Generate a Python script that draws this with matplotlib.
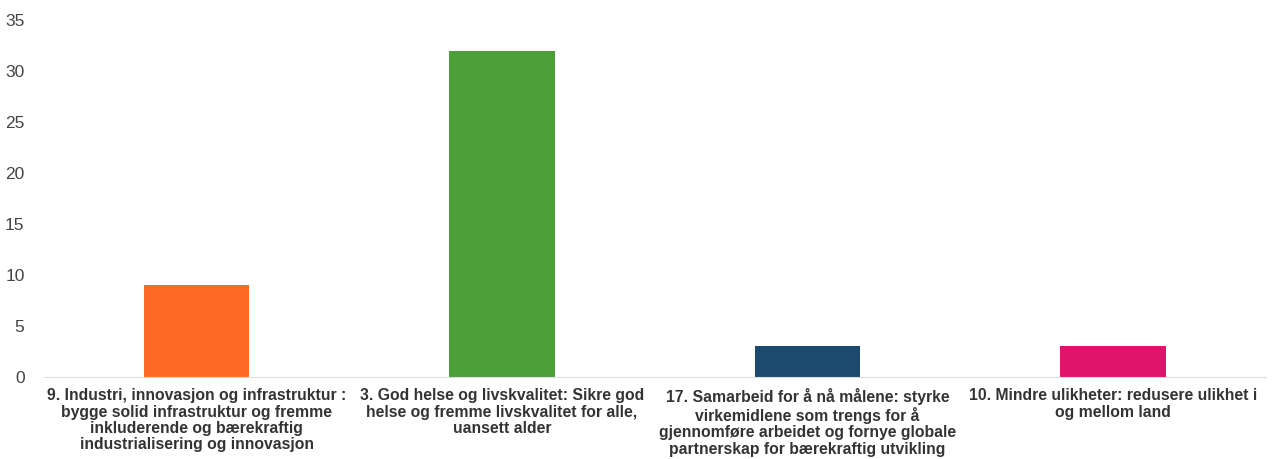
import matplotlib.pyplot as plt

plt.rcParams['font.family'] = ['Liberation Sans', 'DejaVu Sans']

labels = [
    "9. Industri, innovasjon og infrastruktur :\nbygge solid infrastruktur og fremme\ninkluderende og bærekraftig\nindustrialisering og innovasjon",
    "3. God helse og livskvalitet: Sikre god\nhelse og fremme livskvalitet for alle,\nuansett alder",
    "17. Samarbeid for å nå målene: styrke\nvirkemidlene som trengs for å\ngjennomføre arbeidet og fornye globale\npartnerskap for bærekraftig utvikling",
    "10. Mindre ulikheter: redusere ulikhet i\nog mellom land",
]
values = [9, 32, 3, 3]
colors = ["#ff6b24", "#4ca03a", "#1b4a6e", "#e0146a"]
yticks = [0, 5, 10, 15, 20, 25, 30, 35]

fig = plt.figure(figsize=(12.74, 4.59), dpi=100)
ax = fig.add_axes([0.0345, 0.1786, 0.959, 0.7778])

x = range(len(values))
ax.bar(x, values, width=0.345, color=colors)

ax.set_xlim(-0.5, len(values) - 0.5)
ax.set_ylim(0, 35)
ax.set_yticks(yticks)
ax.set_xticks(list(x))
ax.set_xticklabels(labels, fontsize=11.3, fontweight='bold', color='#333333',
                   linespacing=1.12)
ax.tick_params(axis='y', length=0, labelsize=12.5, labelcolor='#444444', pad=14)
ax.tick_params(axis='x', length=0, pad=8)

for side in ['top', 'right', 'left']:
    ax.spines[side].set_visible(False)
ax.spines['bottom'].set_color('#dddddd')

fig.savefig('out.png', dpi=100)
